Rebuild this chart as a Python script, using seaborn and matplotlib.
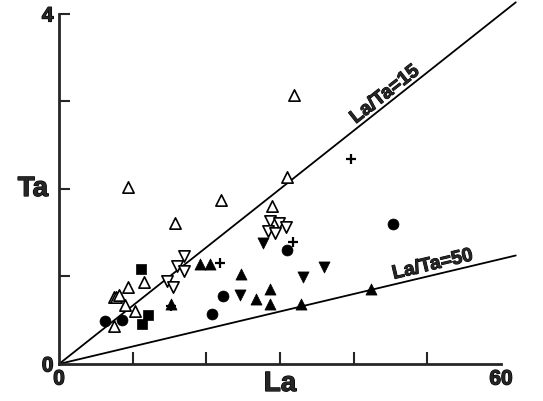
import numpy as np
import pandas as pd
import matplotlib
matplotlib.use("Agg")
import matplotlib.pyplot as plt
import matplotlib.patheffects as pe
import seaborn as sns

# La (ppm) and Ta (ppm) by sample group
open_up_la = [9.4, 22.0, 15.7, 11.5, 9.4, 7.5, 7.8, 8.1, 9.0, 10.3, 7.4, 31.9, 30.9, 28.9]
open_up_ta = [2.02, 1.87, 1.61, 0.94, 0.88, 0.76, 0.77, 0.79, 0.67, 0.60, 0.43, 3.07, 2.14, 1.80]

open_down_la = [17.0, 16.0, 17.0, 14.7, 15.5, 28.7, 29.8, 30.8, 28.3, 29.3]
open_down_ta = [1.23, 1.12, 1.06, 0.95, 0.88, 1.63, 1.61, 1.57, 1.52, 1.50]

filled_up_la = [19.1, 20.5, 15.2, 24.7, 26.7, 28.7, 28.7, 32.9, 42.3]
filled_up_ta = [1.14, 1.14, 0.69, 1.03, 0.74, 0.86, 0.69, 0.69, 0.86]

filled_down_la = [27.7, 36.0, 33.1, 24.6]
filled_down_ta = [1.38, 1.11, 0.99, 0.79]

circle_la = [6.2, 8.5, 22.2, 20.8, 30.9, 45.4]
circle_ta = [0.49, 0.50, 0.78, 0.57, 1.30, 1.60]

square_la = [11.1, 12.1, 11.2]
square_ta = [1.09, 0.56, 0.46]

plus_la = [21.8, 31.8, 39.7, 15.2]
plus_ta = [1.15, 1.39, 2.34, 0.66]

# Reference La/Ta ratios
ratios = [15, 50]

x_ticks = [0, 10, 20, 30, 40, 50, 60]
x_labels = ["0", "", "", "", "", "", "60"]
y_ticks = [0, 1, 2, 3, 4]
y_labels = ["0", "", "", "", "4"]

sns.set_style("ticks")
plt.rcParams["font.family"] = ["Liberation Sans", "DejaVu Sans"]
plt.rcParams["font.weight"] = "bold"

heavy = [pe.withStroke(linewidth=0.9, foreground="black")]

fig = plt.figure(figsize=(5.43, 4.01), dpi=100)
ax = fig.add_axes([0.1087, 0.0923, 0.8140, 0.8728])

# ratio lines
x_end = 62.0
for r in ratios:
    xs = np.array([0.0, x_end])
    ax.plot(xs, xs / r, color="black", lw=1.3, zorder=1, clip_on=False)

groups = [
    ("open_up", open_up_la, open_up_ta, "^", 66, "white", "black", 1.2),
    ("open_down", open_down_la, open_down_ta, "v", 66, "white", "black", 1.2),
    ("filled_up", filled_up_la, filled_up_ta, "^", 64, "black", "black", 0.5),
    ("filled_down", filled_down_la, filled_down_ta, "v", 64, "black", "black", 0.5),
    ("circle", circle_la, circle_ta, "o", 62, "black", "black", 0.5),
    ("square", square_la, square_ta, "s", 52, "black", "black", 0.5),
]
frames = []
for name, la, ta, *_ in groups:
    frames.append(pd.DataFrame({"La": la, "Ta": ta, "group": name}))
df = pd.concat(frames, ignore_index=True)

for name, la, ta, marker, size, fc, ec, lw in groups:
    sub = df[df["group"] == name]
    sns.scatterplot(data=sub, x="La", y="Ta", marker=marker, s=size,
                    facecolor=fc, edgecolor=ec, linewidth=lw, ax=ax,
                    zorder=3, clip_on=False, legend=False)

plus_df = pd.DataFrame({"La": plus_la, "Ta": plus_ta})
sns.scatterplot(data=plus_df, x="La", y="Ta", marker="+", s=45, color="black",
                linewidth=1.6, ax=ax, zorder=4, clip_on=False, legend=False)

ax.set_xlim(0, 60)
ax.set_ylim(0, 4)
ax.set_xticks(x_ticks)
ax.set_xticklabels(x_labels)
ax.set_yticks(y_ticks)
ax.set_yticklabels(y_labels)
ax.tick_params(axis="x", direction="in", length=9, width=1.5,
               labelsize=15, pad=4)
ax.tick_params(axis="y", direction="in", length=8, width=1.5,
               labelsize=15, pad=4)
ax.xaxis.get_major_ticks()[0].tick1line.set_visible(False)
ax.xaxis.get_major_ticks()[-1].tick1line.set_visible(False)
ax.yaxis.get_major_ticks()[0].tick1line.set_visible(False)
for lab in ax.get_xticklabels() + ax.get_yticklabels():
    lab.set_fontweight("bold")
    lab.set_path_effects(heavy)

for side in ["top", "right"]:
    ax.spines[side].set_visible(False)
for side in ["left", "bottom"]:
    ax.spines[side].set_linewidth(2.0)

ax.set_xlabel("La", fontsize=20, fontweight="bold", labelpad=0)
ax.set_ylabel("Ta", fontsize=20, fontweight="bold", rotation=0, labelpad=0)
ax.xaxis.label.set_path_effects(heavy)
ax.yaxis.label.set_path_effects(heavy)
ax.yaxis.set_label_coords(-0.025, 0.5)
ax.xaxis.set_label_coords(0.5, -0.02)
ax.xaxis.label.set_va("top")
ax.yaxis.label.set_ha("right")
ax.yaxis.label.set_va("center")

# ratio labels, aligned with their lines
def line_label(ratio, x_at, text, offset):
    p0 = ax.transData.transform((0, 0))
    p1 = ax.transData.transform((60, 60 / ratio))
    ang = np.degrees(np.arctan2(p1[1] - p0[1], p1[0] - p0[0]))
    t = ax.annotate(text, xy=(x_at, x_at / ratio), xytext=(0, offset),
                    textcoords="offset points", rotation=ang,
                    rotation_mode="anchor", ha="center", va="bottom",
                    fontsize=14, fontweight="bold", annotation_clip=False)
    t.set_path_effects([pe.withStroke(linewidth=0.7, foreground="black")])

line_label(15, 45.0, "La/Ta=15", 0)
line_label(50, 51.0, "La/Ta=50", 1)

fig.savefig("out.png", dpi=100)
